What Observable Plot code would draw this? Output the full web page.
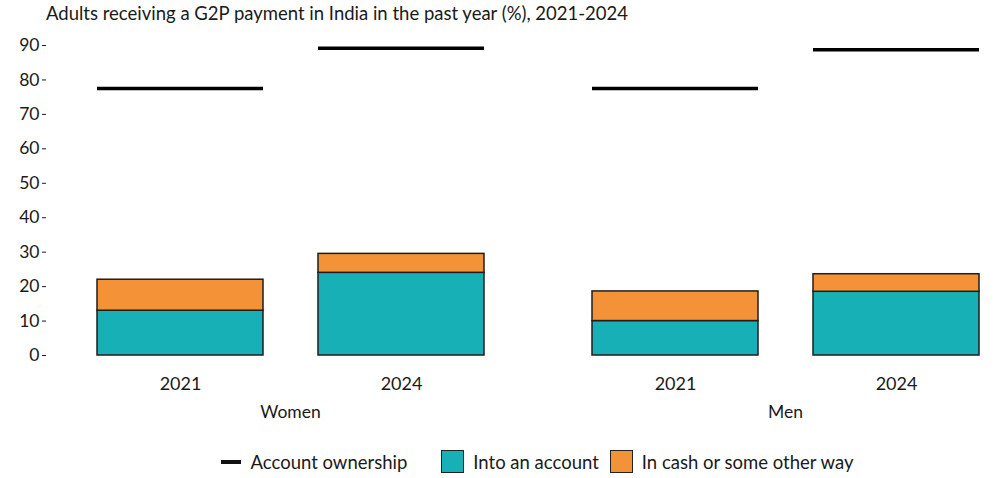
<!DOCTYPE html>
<html>
<head>
<meta charset="utf-8">
<script src="https://cdn.jsdelivr.net/npm/d3@7"></script>
<script src="https://cdn.jsdelivr.net/npm/@observablehq/plot@0.6"></script>
<style>
  html, body { margin: 0; padding: 0; background: #fff; }
  body { width: 1008px; height: 478px; overflow: hidden; font-family: Lato, "Open Sans", sans-serif; color: #1a1a1a; }
  #title { height: 28px; line-height: 26px; padding-left: 46px; font-size: 18.5px; }
  #legend { display: flex; justify-content: center; align-items: center; font-size: 18.5px; margin-top: 22px; padding-left: 66px; }
  .item { display: flex; align-items: center; }
  .line { width: 20px; height: 4px; background: #111; margin-right: 10px; }
  .sw { width: 23px; height: 23px; border: 1.5px solid #222; margin-right: 9px; box-sizing: border-box; }
</style>
</head>
<body>
<div id="title">Adults receiving a G2P payment in India in the past year (%), 2021-2024</div>
<div id="chart"></div>
<div id="legend"></div>
<script>
const genders = ["Women", "Women", "Men", "Men"];
const years = ["2021", "2024", "2021", "2024"];
const intoAccount = [13, 24, 10, 18.5];
const inCash = [9, 5.5, 8.6, 5.1];
const accountOwnership = [77.5, 89.2, 77.5, 88.8];
const seriesNames = ["Into an account", "In cash or some other way"];
const seriesColors = ["#18B0B7", "#F39237"];
const lineName = "Account ownership";
const yTicks = [0, 10, 20, 30, 40, 50, 60, 70, 80, 90];

const stacked = [];
genders.forEach((g, i) => {
  stacked.push({gender: g, year: years[i], series: seriesNames[0], value: intoAccount[i]});
  stacked.push({gender: g, year: years[i], series: seriesNames[1], value: inCash[i]});
});
const lines = genders.map((g, i) => ({gender: g, year: years[i], value: accountOwnership[i]}));

const chart = Plot.plot({
  width: 1008,
  height: 400,
  marginLeft: 45,
  marginRight: 8,
  marginTop: 17,
  marginBottom: 73,
  style: {fontFamily: "Lato, 'Open Sans', sans-serif", fontSize: "18px", color: "#1a1a1a"},
  fx: {domain: ["Women", "Men"], paddingInner: 0.074, paddingOuter: 0, label: null},
  x: {domain: ["2021", "2024"], paddingInner: 0.25, paddingOuter: 0.159, align: 0.714, label: null},
  y: {domain: [0, 90], label: null},
  color: {domain: seriesNames, range: seriesColors},
  marks: [
    Plot.axisY({ticks: yTicks, tickSize: 4, tickPadding: 3, label: null, fontSize: 17.5}),
    Plot.axisX({tickSize: 0, tickPadding: 22, label: null}),
    Plot.axisFx({anchor: "bottom", tickSize: 0, tickPadding: 50, label: null, fontSize: 17.5, dx: 15}),
    Plot.barY(stacked, Plot.stackY({fx: "gender", x: "year", y: "value", fill: "series", stroke: "#1e1e1e", strokeWidth: 1.5, order: seriesNames})),
    Plot.tickY(lines, {fx: "gender", x: "year", y: "value", stroke: "#000", strokeWidth: 3.5})
  ]
});
document.getElementById("chart").appendChild(chart);

const legend = document.getElementById("legend");
const l1 = document.createElement("div"); l1.className = "item";
l1.innerHTML = `<div class="line"></div><span>${lineName}</span>`;
l1.style.marginRight = "34px";
legend.appendChild(l1);
seriesNames.forEach((n, i) => {
  const it = document.createElement("div"); it.className = "item";
  if (i > 0) it.style.marginLeft = "11px";
  it.innerHTML = `<div class="sw" style="background:${seriesColors[i]}"></div><span>${n}</span>`;
  legend.appendChild(it);
});
</script>
</body>
</html>
